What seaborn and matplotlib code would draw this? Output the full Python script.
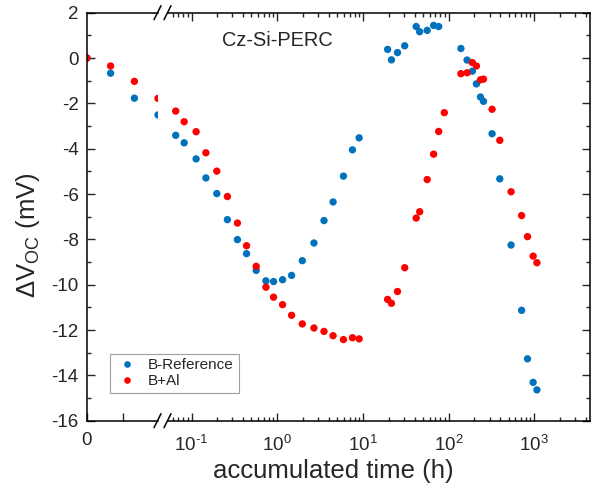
import numpy as np
import pandas as pd
import matplotlib
matplotlib.use("Agg")
import matplotlib.pyplot as plt
import matplotlib.ticker as mticker
from matplotlib.lines import Line2D
import seaborn as sns

# data (time in hours, dVoc in mV)
t_lin = [0, 0.0133, 0.0267, 0.04]
ref_lin = [0, -0.67, -1.77, -2.51]
al_lin = [0, -0.35, -1.03, -1.78]

t_log = [0.0653, 0.082, 0.113, 0.147, 0.197, 0.262, 0.343, 0.438, 0.568, 0.738,
         0.905, 1.153, 1.47, 1.96, 2.68, 3.51, 4.48, 5.92, 7.54, 9.02,
         19.4, 21.5, 25.3, 30.7, 41.8, 45.9, 56.2, 66.8, 76.5, 89,
         139, 164, 189, 211, 235, 255, 321, 395, 535, 710, 832, 968, 1071]
ref_log = [-3.41, -3.74, -4.45, -5.29, -5.98, -7.13, -8.01, -8.63, -9.37, -9.83,
           -9.86, -9.78, -9.59, -8.94, -8.16, -7.17, -6.35, -5.21, -4.05, -3.52,
           0.38, -0.08, 0.24, 0.54, 1.39, 1.16, 1.22, 1.44, 1.39, np.nan,
           0.42, -0.09, -0.58, -1.14, -1.72, -1.91, -3.34, -5.33, -8.25, -11.13, -13.27, -14.31, -14.64]
al_log = [-2.34, -2.81, -3.25, -4.18, -4.99, -6.11, -7.28, -8.28, -9.19, -10.11,
          -10.55, -10.88, -11.35, -11.73, -11.91, -12.06, -12.25, -12.42, -12.34, -12.39,
          -10.65, -10.82, -10.3, -9.25, -7.06, -6.78, -5.36, -4.24, -3.24, -2.41,
          -0.69, -0.65, -0.2, -0.35, -0.96, -0.93, -2.26, -3.63, -5.9, -6.95, -7.88, -8.74, -9.03]

labels = ["B-Reference", "B+Al"]
colors = ["#0072BD", "#FF0000"]
log_ticks = [0.1, 1, 10, 100, 1000]
log_ticklabels = [r"10$^{\text{-}1}$", r"10$^{0}$", r"10$^{1}$", r"10$^{2}$", r"10$^{3}$"]

def long_df(t, ref, al):
    d = pd.concat([pd.DataFrame({"t": t, "dv": ref, "s": labels[0]}),
                   pd.DataFrame({"t": t, "dv": al, "s": labels[1]})])
    return d.dropna()

df_lin = long_df(t_lin, ref_lin, al_lin)
df_log = long_df(t_log, ref_log, al_log)

sns.set_style("ticks")
plt.rcParams['font.family'] = ['Liberation Sans', 'DejaVu Sans']
plt.rcParams['mathtext.fontset'] = 'custom'
plt.rcParams['mathtext.rm'] = 'Liberation Sans'
plt.rcParams['mathtext.it'] = 'Liberation Sans:italic'
plt.rcParams['mathtext.default'] = 'regular'
plt.rcParams['axes.unicode_minus'] = False

W, H = 591, 493
fig = plt.figure(figsize=(W / 100, H / 100), dpi=100)
px = lambda x0, y0, x1, y1: [x0 / W, 1 - y1 / H, (x1 - x0) / W, (y1 - y0) / H]
ax1 = fig.add_axes(px(87, 12.7, 158, 420.7))
ax2 = fig.add_axes(px(168, 12.7, 590, 420.7))

pal = dict(zip(labels, colors))
sns.scatterplot(data=df_lin, x="t", y="dv", hue="s", palette=pal, s=28,
                linewidth=0, ax=ax1, legend=False)
sns.scatterplot(data=df_log, x="t", y="dv", hue="s", palette=pal, s=28,
                linewidth=0, ax=ax2)

for ax in (ax1, ax2):
    ax.set_ylim(-16, 2)
    ax.set_xlabel("")
    ax.set_ylabel("")
    for sp in ax.spines.values():
        sp.set_linewidth(1.1)
        sp.set_color("black")
    ax.yaxis.set_major_locator(mticker.MultipleLocator(2))
    ax.yaxis.set_minor_locator(mticker.MultipleLocator(1))

ax1.set_xlim(0, 0.04)
ax1.set_xticks([0, 0.02])
ax1.set_xticklabels(["0", ""])
ax1.spines["right"].set_visible(False)
ax1.tick_params(axis="both", which="major", direction="in", length=6, width=1,
                labelsize=13.5, pad=8, top=False, right=False)
ax1.tick_params(axis="y", which="minor", direction="in", length=3, width=1, left=True)
ax1.tick_params(axis="y", pad=6)

ax2.set_xscale("log")
ax2.set_xlim(0.0531, 4460)
ax2.xaxis.set_minor_locator(mticker.LogLocator(base=10, subs=np.arange(2, 10), numticks=20))
ax2.set_xticks(log_ticks)
ax2.set_xticklabels(log_ticklabels)
ax2.spines["left"].set_visible(False)
ax2.tick_params(axis="both", which="major", direction="in", length=6, width=1,
                labelsize=13.5, top=True, right=True, left=False, labelleft=False)
ax2.tick_params(axis="both", which="minor", direction="in", length=3, width=1,
                top=True, right=True, left=False)
ax2.tick_params(axis="x", pad=10)

leg = ax2.legend(loc="lower left", bbox_to_anchor=(110 / W, 1 - 393 / H),
                 bbox_transform=fig.transFigure, borderaxespad=0, fontsize=11,
                 frameon=True, fancybox=False, edgecolor="#888888",
                 handletextpad=0.6, borderpad=0.3, labelspacing=0.15,
                 markerscale=0.9, handlelength=1.6)
leg.get_frame().set_linewidth(0.8)

fig.text(222 / W, 1 - 40 / H, "Cz-Si-PERC", fontsize=14.4, ha="left", va="center")
fig.text(333 / W, 1 - 478 / H, "accumulated time (h)", fontsize=18.5,
         ha="center", va="baseline")
fig.text(28 / W, 1 - 235 / H, r"$\Delta$V$_{OC}$ (mV)", fontsize=18.5,
         rotation=90, ha="center", va="center")

# axis break marks
for yb in (12.7, 420.7):
    for xb in (157.5, 167.5):
        fig.add_artist(Line2D([(xb - 3.5) / W, (xb + 3.5) / W],
                              [1 - (yb + 7) / H, 1 - (yb - 7) / H],
                              color="black", lw=1.1, transform=fig.transFigure))

fig.savefig("out.png", dpi=100)
